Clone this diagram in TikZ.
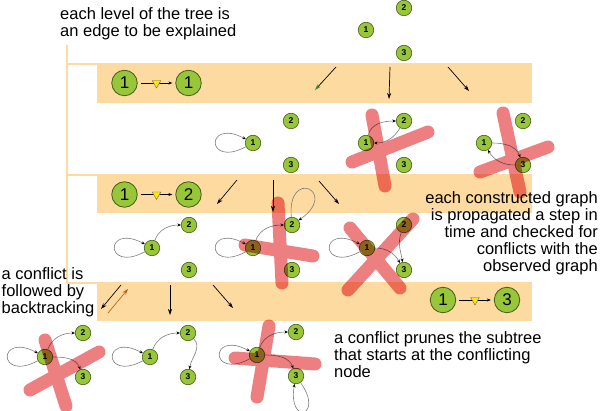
\documentclass[tikz,border=0pt]{standalone}
\usepackage{fontspec}
\setmainfont{Liberation Sans}
\usetikzlibrary{arrows.meta,shapes.geometric}
\definecolor{bandorange}{RGB}{253,218,160}
\definecolor{nodegreen}{RGB}{152,198,58}
\definecolor{nodeline}{RGB}{70,95,20}
\definecolor{crossred}{RGB}{237,127,128}
\definecolor{edgegray}{RGB}{125,125,125}
\definecolor{backbrown}{RGB}{190,95,30}
\definecolor{tipgreen}{RGB}{40,150,40}
\begin{document}
\begin{tikzpicture}[x=1pt,y=-1pt,
        bignode/.style={circle,draw=nodeline,fill=nodegreen,line width=0.8pt,minimum size=25.5pt,inner sep=0pt,font=\fontsize{17}{17}\selectfont},
        smallnode/.style={circle,draw=nodeline,fill=nodegreen,line width=0.6pt,minimum size=15.5pt,inner sep=0pt,font=\fontsize{8.5}{8.5}\selectfont\bfseries},
        gedge/.style={draw=edgegray,line width=0.6pt,-{Stealth[length=3.5pt,width=3pt,color=black]}},
        leftloop/.style={out=208,in=152,min distance=46pt},
        treearrow/.style={line width=0.7pt,-{Stealth[length=6pt,width=4pt]}},
        tri/.style={regular polygon,regular polygon sides=3,shape border rotate=180,draw=black!60,fill=yellow!90!orange,line width=0.4pt,minimum size=10pt,inner sep=0pt},
        strike/.style={crossred,line width=13pt,line cap=round,blend mode=multiply},
        explain/.style={font=\fontsize{16.5}{17}\selectfont,inner sep=0pt}]
        \useasboundingbox (0,0) rectangle (600,411);
        \fill[bandorange] (97,63) rectangle (532,103);
        \fill[bandorange] (97,174) rectangle (532,213);
        \fill[bandorange] (97,282) rectangle (532,321);
        \draw[bandorange,line width=2pt] (67,45) -- (67,283);
        \draw[bandorange,line width=2pt] (67,64) -- (97,64) (67,175) -- (97,175) (67,283) -- (97,283);
        \node[bignode] (lv1a) at (124.5,83) {1};
        \node[bignode] (lv1b) at (188.5,83) {1};
        \draw[line width=0.6pt,-{Stealth[length=4pt,width=3pt]},shorten <=3pt,shorten >=3pt] (lv1a) -- node[tri] (lv1m) {} (lv1b);
        \node[bignode] (lv2a) at (124.5,194.5) {1};
        \node[bignode] (lv2b) at (188.5,194.5) {2};
        \draw[line width=0.6pt,-{Stealth[length=4pt,width=3pt]},shorten <=3pt,shorten >=3pt] (lv2a) -- node[tri] (lv2m) {} (lv2b);
        \node[bignode] (lv3a) at (443,300) {1};
        \node[bignode] (lv3b) at (507,300) {3};
        \draw[line width=0.6pt,-{Stealth[length=4pt,width=3pt]},shorten <=3pt,shorten >=3pt] (lv3a) -- node[tri] (lv3m) {} (lv3b);
        \coordinate (t1s) at (336,67); \coordinate (t1e) at (315,90);
        \coordinate (t2s) at (390,67); \coordinate (t2e) at (389,99);
        \coordinate (t3s) at (448,67); \coordinate (t3e) at (469,91);
        \coordinate (t4s) at (237,180); \coordinate (t4e) at (217,204);
        \coordinate (t5s) at (273,180); \coordinate (t5e) at (273,212);
        \coordinate (t6s) at (319,181); \coordinate (t6e) at (339,204);
        \coordinate (t7s) at (121,285); \coordinate (t7e) at (101,309);
        \coordinate (bks) at (108,313); \coordinate (bke) at (128,289);
        \coordinate (t8s) at (170,285); \coordinate (t8e) at (170,315);
        \coordinate (t9s) at (213,285); \coordinate (t9e) at (233,308);
        \draw[line width=0.7pt,-{Stealth[length=6pt,width=4pt,color=tipgreen]}] (t1s) -- (t1e);
        \draw[treearrow] (t2s) -- (t2e);
        \draw[treearrow] (t3s) -- (t3e);
        \draw[treearrow] (t4s) -- (t4e);
        \draw[treearrow] (t5s) -- (t5e);
        \draw[treearrow] (t6s) -- (t6e);
        \draw[treearrow] (t7s) -- (t7e);
        \draw[treearrow,backbrown] (bks) -- (bke);
        \draw[treearrow] (t8s) -- (t8e);
        \draw[treearrow] (t9s) -- (t9e);
        \node[smallnode] (r1) at (366,30) {1};
        \node[smallnode] (r2) at (404,8) {2};
        \node[smallnode] (r3) at (404,53) {3};
        \node[smallnode] (a1) at (253,143) {1};
        \node[smallnode] (a2) at (291,121) {2};
        \node[smallnode] (a3) at (291,165) {3};
        \draw[gedge] (a1) to[leftloop] (a1);
        \node[smallnode] (b1) at (366,143) {1};
        \node[smallnode] (b2) at (404,121) {2};
        \node[smallnode] (b3) at (404,165) {3};
        \draw[gedge] (b1) to[out=75,in=180] (b2);
        \draw[gedge] (b2) to[out=240,in=0] (b1);
        \node[smallnode] (c1) at (484,143) {1};
        \node[smallnode] (c2) at (523,121) {2};
        \node[smallnode] (c3) at (523,165) {3};
        \draw[gedge] (c1) to[out=0,in=110] (c3);
        \draw[gedge] (c3) to[out=180,in=-60] (c1);
        \node[smallnode] (d1) at (152,248) {1};
        \node[smallnode] (d2) at (189,225) {2};
        \node[smallnode] (d3) at (189,270) {3};
        \draw[gedge] (d1) to[leftloop] (d1);
        \draw[gedge] (d1) to[out=70,in=180] (d2);
        \node[smallnode] (e1) at (253,248) {1};
        \node[smallnode] (e2) at (292,225) {2};
        \node[smallnode] (e3) at (292,270) {3};
        \draw[gedge] (e1) to[leftloop] (e1);
        \draw[gedge] (e1) to[out=70,in=180] (e2);
        \draw[gedge] (e2) to[out=95,in=35,min distance=50pt] (e2);
        \node[smallnode] (f1) at (367,248) {1};
        \node[smallnode] (f2) at (404,225) {2};
        \node[smallnode] (f3) at (404,270) {3};
        \draw[gedge] (f1) to[leftloop] (f1);
        \draw[gedge] (f1) to[out=0,in=120] (f3);
        \draw[gedge] (f2) to[out=250,in=100] (f3);
        \node[smallnode] (g1) at (45,357) {1};
        \node[smallnode] (g2) at (83,333) {2};
        \node[smallnode] (g3) at (83,377) {3};
        \draw[gedge] (g1) to[leftloop] (g1);
        \draw[gedge] (g1) to[out=70,in=180] (g2);
        \draw[gedge] (g1) to[out=0,in=110] (g3);
        \node[smallnode] (h1) at (150,357) {1};
        \node[smallnode] (h2) at (188,333) {2};
        \node[smallnode] (h3) at (188,377) {3};
        \draw[gedge] (h1) to[leftloop] (h1);
        \draw[gedge] (h1) to[out=70,in=180] (h2);
        \draw[gedge] (h2) to[out=-45,in=80] (h3);
        \node[smallnode] (i1) at (257,355) {1};
        \node[smallnode] (i2) at (296,332) {2};
        \node[smallnode] (i3) at (296,376) {3};
        \draw[gedge] (i1) to[leftloop] (i1);
        \draw[gedge] (i1) to[out=70,in=180] (i2);
        \draw[gedge] (i1) to[out=0,in=110] (i3);
        \draw[gedge] (i3) to[out=-55,in=-100,min distance=42pt] (i3);
        \draw[strike] (372,115) -- (385,186) (352,162) -- (428,132);
        \draw[strike] (503,113) -- (520,192) (480,172) -- (548,147);
        \draw[strike] (278,203) -- (282,283) (245,245) -- (313,256);
        \draw[strike] (350,228) -- (400,288) (413,219) -- (348,290);
        \draw[strike] (45,340) -- (66,406) (30,390) -- (99,352);
        \draw[strike] (269,326) -- (257,397) (235,358) -- (315,364);
        \node[explain,anchor=north west,align=left] (levelnote) at (60,7.5) {each level of the tree is\\an edge to be explained};
        \node[explain,anchor=north east,align=right] (propnote) at (598,191.5) {each constructed graph\\is propagated a step in\\time and checked for\\conflicts with the\\observed graph};
        \node[explain,anchor=north west,align=left] (backnote) at (1.5,267) {a conflict is\\followed by\\backtracking};
        \node[explain,anchor=north west,align=left] (prunenote) at (334,331.5) {a conflict prunes the subtree\\that starts at the conflicting\\node};
    \end{tikzpicture}
\end{document}
